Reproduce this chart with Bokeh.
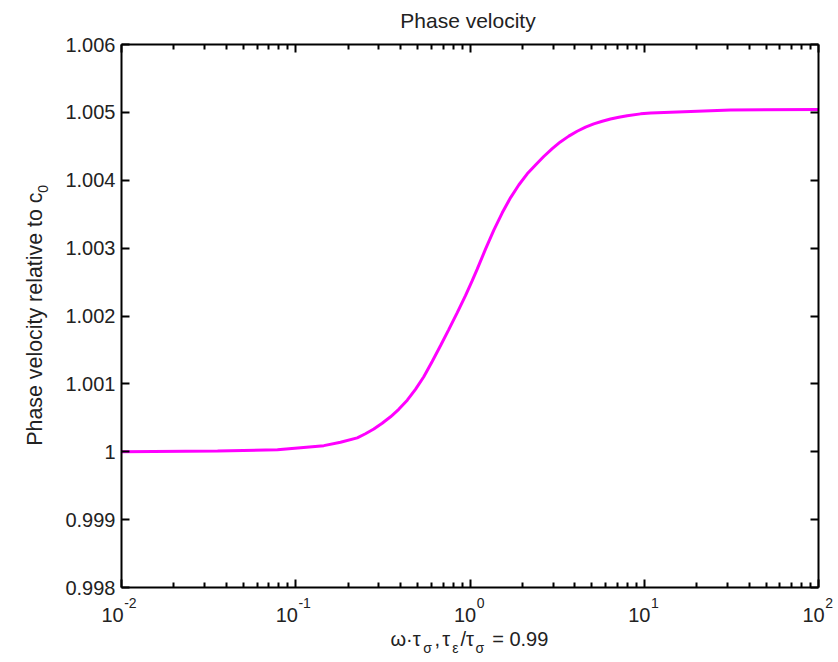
import math
from bokeh.plotting import figure
from bokeh.models import Range1d, FixedTicker, LogAxis, LinearAxis, Label
from bokeh.embed import file_html
from bokeh.resources import INLINE

# ---- data ----
omega = [0.01, 0.0356, 0.0785, 0.145, 0.1807, 0.2254, 0.2512, 0.2805, 0.3133,
         0.35, 0.390, 0.4365, 0.4864, 0.543, 0.6067, 0.678, 0.7551, 0.845,
         0.9419, 1.03, 1.10, 1.2274, 1.37, 1.5311, 1.71, 1.905, 2.13, 2.377,
         2.65, 2.965, 3.30, 3.69, 4.12, 4.603, 5.13, 5.741, 6.40, 7.145, 7.98,
         9.53, 10.9, 31.3, 100]
phase_vel = [1.0, 1.00001, 1.00003, 1.00009, 1.00014, 1.000205, 1.000265,
             1.000335, 1.00042, 1.000515, 1.000625, 1.00076, 1.00092,
             1.001105, 1.00133, 1.001565, 1.0018, 1.00205, 1.0023,
             1.00252, 1.00269, 1.002985, 1.003265, 1.00352, 1.003745,
             1.00393, 1.004095, 1.004225, 1.00435, 1.004465, 1.004565,
             1.00465, 1.004722, 1.004782, 1.00483, 1.00487, 1.004902,
             1.004928, 1.00495, 1.004978, 1.004992, 1.005035, 1.005042]

x_ticks = [0.01, 0.1, 1, 10, 100]
x_tick_base = ["10", "10", "10", "10", "10"]
x_tick_exp = ["-2", "-1", "0", "1", "2"]
y_ticks = [0.998, 0.999, 1.0, 1.001, 1.002, 1.003, 1.004, 1.005, 1.006]
y_tick_labels = ["0.998", "0.999", "1", "1.001", "1.002", "1.003", "1.004", "1.005", "1.006"]

title_text = "Phase velocity"
ylabel_main = "Phase velocity relative to c"
ylabel_sub = "0"
xlabel_parts = ["ω·τ", "σ", ",", "τ", "ε", "/τ", "σ", "= 0.99"]

# ---- layout / style ----
W, H = 838, 662
BOX_L, BOX_R, BOX_T, BOX_B = 121, 818, 44, 587   # axes box in pixels
FONT = "Liberation Sans"
TXT = "#222222"

x0, x1 = x_ticks[0], x_ticks[-1]
y0, y1 = y_ticks[0], y_ticks[-1]
px_per_dec = (BOX_R - BOX_L) / (math.log10(x1) - math.log10(x0))
px_per_y = (BOX_B - BOX_T) / (y1 - y0)
x_range = Range1d(10 ** (math.log10(x0) - BOX_L / px_per_dec),
                  10 ** (math.log10(x1) + (W - BOX_R) / px_per_dec))
y_range = Range1d(y0 - (H - BOX_B) / px_per_y, y1 + BOX_T / px_per_y)

p = figure(width=W, height=H, x_axis_type="log", x_range=x_range, y_range=y_range,
           output_backend="svg", toolbar_location=None,
           min_border_left=0, min_border_right=0, min_border_top=0, min_border_bottom=0)
p.title.visible = False
p.grid.visible = False
p.outline_line_color = None
p.background_fill_color = "white"
p.border_fill_color = "white"

minor = [m * d for d in x_ticks[:-1] for m in range(2, 10)]


def style_axis(ax, labels=False):
    ax.axis_line_width = 2
    ax.axis_line_color = "black"
    ax.major_tick_in = 8
    ax.major_tick_out = 0
    ax.minor_tick_in = 5
    ax.minor_tick_out = 0
    ax.major_tick_line_width = 2
    ax.minor_tick_line_width = 2
    ax.major_tick_line_color = "black"
    ax.minor_tick_line_color = "black"
    if not labels:
        ax.major_label_text_font_size = "1px"
        ax.major_label_text_color = None
        ax.major_label_standoff = 1


# bottom and top x axes (box)
xa = p.xaxis[0]
xa.ticker = FixedTicker(ticks=x_ticks, minor_ticks=minor)
xa.bounds = (x0, x1)
xa.fixed_location = y0
style_axis(xa)
top = LogAxis(ticker=FixedTicker(ticks=x_ticks, minor_ticks=minor),
              bounds=(x0, x1), fixed_location=y1)
style_axis(top)
p.add_layout(top, "above")

# left and right y axes
ya = p.yaxis[0]
ya.ticker = FixedTicker(ticks=y_ticks, minor_ticks=[])
ya.bounds = (y0, y1)
ya.fixed_location = x0
ya.major_label_overrides = {t: s for t, s in zip(y_ticks, y_tick_labels)}
style_axis(ya, labels=True)
ya.major_label_text_font = FONT
ya.major_label_text_font_size = "20px"
ya.major_label_text_color = TXT
ya.major_label_standoff = 6
right = LinearAxis(ticker=FixedTicker(ticks=y_ticks, minor_ticks=[]),
                   bounds=(y0, y1), fixed_location=x1)
style_axis(right)
p.add_layout(right, "right")

# the curve
p.line(omega, phase_vel, line_color="#FF00FF", line_width=3)


def add_label(**kw):
    kw.setdefault("text_baseline", "alphabetic")
    kw.setdefault("text_font", FONT)
    kw.setdefault("text_color", TXT)
    p.add_layout(Label(**kw))


# x tick labels: "10" with superscript exponent, whole string centred on tick
for t, b, e in zip(x_ticks, x_tick_base, x_tick_exp):
    w_base = len(b) * 0.556 * 20
    w_exp = sum((0.584 if ch == "-" else 0.556) for ch in e) * 14
    off = (w_base - w_exp) / 2 - 1
    add_label(x=t, y=y0, x_offset=off, y_offset=-27, text=b,
              text_align="right", text_font_size="20px")
    add_label(x=t, y=y0, x_offset=off + 0.5, y_offset=-15, text=e,
              text_align="left", text_font_size="14px")

# title
add_label(x=1, y=y1, x_offset=-2, y_offset=24, text=title_text,
          text_align="center", text_font_size="21px")

# x axis label with subscripts
xl_offsets = [-79.5, -46.8, -35.5, -27.8, -17.8, -9.5, 5.5, 22.2]
xl_is_sub = [False, True, False, False, True, False, True, False]
for txt, xo, sub in zip(xlabel_parts, xl_offsets, xl_is_sub):
    add_label(x=1, y=y0, x_offset=xo, y_offset=-60 if sub else -51, text=txt,
              text_align="left", text_font_size="14px" if sub else "20px")

# y axis label (rotated) with subscript 0
add_label(x=x0, y=1.0, x_offset=-87, y_offset=6, text=ylabel_main,
          angle=math.pi / 2, text_align="left", text_font_size="21.4px")
add_label(x=x0, y=1.0, x_offset=-79, y_offset=259, text=ylabel_sub,
          angle=math.pi / 2, text_align="left", text_font_size="14px")

open("out.html", "w").write(file_html(p, INLINE))
